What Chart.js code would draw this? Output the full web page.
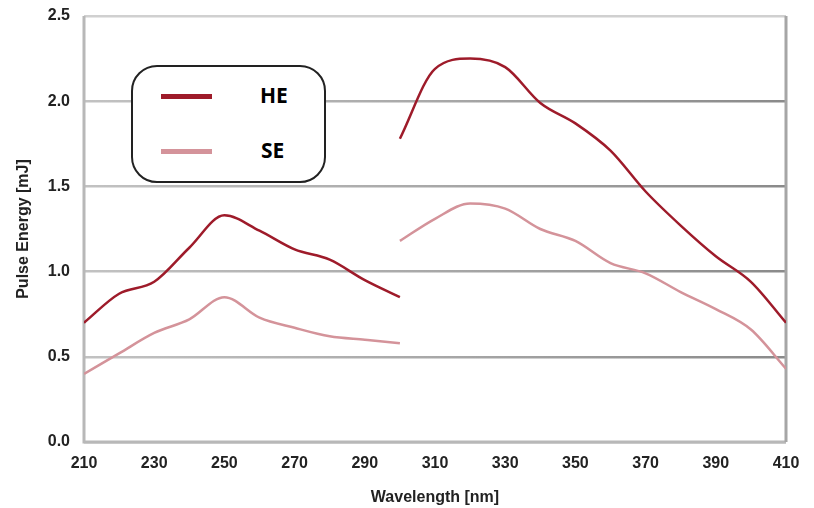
<!DOCTYPE html>
<html>
<head>
<meta charset="utf-8">
<script src="https://cdn.jsdelivr.net/npm/chart.js@4"></script>
<style>
  body { margin: 0; background: #fff; }
  #wrap { position: relative; width: 814px; height: 508px; }
  #legend {
    position: absolute; left: 131px; top: 65px; width: 191px; height: 114px;
    border: 2px solid #222; border-radius: 26px; background: #fff;
    font-family: "Open Sans", sans-serif; font-weight: bold; font-size: 21px; color: #000;
  }
  .row { position: absolute; left: 0; width: 100%; height: 24px; }
  .swatch { position: absolute; left: 28px; width: 51px; height: 5px; top: 10px; }
  .lbl { position: absolute; left: 127px; top: -3px; }
</style>
</head>
<body>
<div id="wrap">
  <canvas id="myChart" width="814" height="508"></canvas>
  <div id="legend">
    <div class="row" style="top:17px"><div class="swatch" style="background:#9e1b2a"></div><div class="lbl">HE</div></div>
    <div class="row" style="top:72px"><div class="swatch" style="background:#d4939a"></div><div class="lbl" style="left:128px">SE</div></div>
  </div>
</div>
<script>
// datos
const wlBajo = [210, 220, 230, 240, 250, 260, 270, 280, 290, 300];
const heBajo = [0.70, 0.87, 0.94, 1.14, 1.33, 1.24, 1.13, 1.07, 0.95, 0.85];
const seBajo = [0.40, 0.52, 0.64, 0.72, 0.85, 0.73, 0.67, 0.62, 0.60, 0.58];

const wlAlto = [300, 310, 320, 330, 340, 350, 360, 370, 380, 390, 400, 410];
const heAlto = [1.78, 2.19, 2.25, 2.20, 1.99, 1.87, 1.71, 1.47, 1.27, 1.09, 0.94, 0.70];
const seAlto = [1.18, 1.31, 1.40, 1.37, 1.25, 1.18, 1.05, 0.99, 0.88, 0.78, 0.66, 0.43];

const xTicks = [210, 230, 250, 270, 290, 310, 330, 350, 370, 390, 410];

const colorHE = '#9e1b2a';
const colorSE = '#d4939a';

let puntos = function(xs, ys){
    return xs.map((x, i) => ({x: x, y: ys[i]}));
};

let serie = function(label, xs, ys, color){
    return {
        label: label,
        data: puntos(xs, ys),
        borderColor: color,
        backgroundColor: color,
        borderWidth: 2.5,
        pointRadius: 0,
        cubicInterpolationMode: 'monotone',
        fill: false
    };
};

// marco del area de grafico
const marco = {
    id: 'marco',
    beforeDatasetsDraw(chart){
        const a = chart.chartArea;
        const c = chart.ctx;
        c.save();
        c.lineWidth = 3;
        c.strokeStyle = '#b8b8b8';
        c.beginPath();
        c.moveTo(a.left, a.top);
        c.lineTo(a.left, a.bottom);
        c.lineTo(a.right, a.bottom);
        c.stroke();
        c.strokeStyle = '#a6a6a6';
        c.beginPath();
        c.moveTo(a.right, a.top);
        c.lineTo(a.right, a.bottom);
        c.stroke();
        c.restore();
    }
};

const fuente = {family: '"Liberation Sans", Arial, sans-serif', weight: 'bold', size: 16};

let ctx = document.getElementById('myChart').getContext('2d');
let chart = new Chart(ctx, {
    type: 'line',
    data: {
        datasets: [
            serie('HE', wlBajo, heBajo, colorHE),
            serie('HE', wlAlto, heAlto, colorHE),
            serie('SE', wlBajo, seBajo, colorSE),
            serie('SE', wlAlto, seAlto, colorSE)
        ]
    },
    options: {
        responsive: false,
        animation: false,
        layout: {padding: {top: 16, right: 28, left: 0, bottom: 0}},
        plugins: {legend: {display: false}, tooltip: {enabled: false}},
        scales: {
            x: {
                type: 'linear',
                min: 210,
                max: 410,
                afterBuildTicks: (axis) => { axis.ticks = xTicks.map(v => ({value: v})); },
                afterFit: (axis) => { axis.height = 66; },
                grid: {display: false, drawTicks: false},
                border: {display: false},
                ticks: {color: '#222', font: fuente, padding: 12, maxRotation: 0},
                title: {display: true, text: 'Wavelength [nm]', color: '#222', font: fuente, padding: {top: 4, bottom: 1}}
            },
            y: {
                min: 0,
                max: 2.5,
                afterFit: (axis) => { axis.width = 84; axis.paddingTop = 0; axis.paddingBottom = 0; },
                grid: {
                    drawTicks: false,
                    lineWidth: 2.5,
                    color: (context) => {
                        const v = context.tick ? context.tick.value : null;
                        if (v === 2.5) return '#d0d0d0';
                        if (v === 0) return '#b8b8b8';
                        const a = context.chart.chartArea;
                        if (!a) return '#aaaaaa';
                        const g = context.chart.ctx.createLinearGradient(a.left, 0, a.right, 0);
                        g.addColorStop(0, '#c2c2c2');
                        g.addColorStop(0.5, '#a8a8a8');
                        g.addColorStop(1, '#8a8a8a');
                        return g;
                    }
                },
                border: {display: false},
                ticks: {
                    stepSize: 0.5,
                    color: '#222',
                    font: fuente,
                    padding: 14,
                    callback: (v) => v.toFixed(1)
                },
                title: {display: true, text: 'Pulse Energy [mJ]', color: '#222', font: fuente, padding: {top: 14, bottom: 0}}
            }
        }
    },
    plugins: [marco]
});
</script>
</body>
</html>
